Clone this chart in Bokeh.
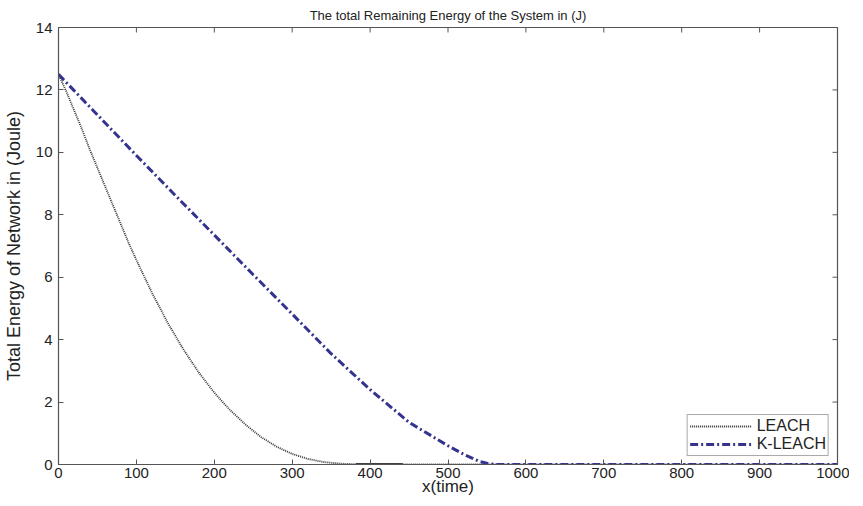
import math
from bokeh.plotting import figure
from bokeh.models import Legend, LegendItem, FixedTicker, Range1d
from bokeh.embed import file_html
from bokeh.resources import INLINE

# ---- data ----
title_text = "The total Remaining Energy of the System in (J)"
x_label = "x(time)"
y_label = "Total Energy of Network in (Joule)"
x_ticks = [0, 100, 200, 300, 400, 500, 600, 700, 800, 900, 1000]
y_ticks = [0, 2, 4, 6, 8, 10, 12, 14]

leach_x = [0, 10, 20, 30, 40, 50, 60, 70, 80, 90, 100, 120, 140, 160, 180, 200,
           220, 240, 260, 280, 300, 320, 340, 360, 380, 400, 500, 600, 700, 800, 900, 1000]
leach_y = [12.5, 11.95, 11.35, 10.75, 10.1, 9.5, 8.9, 8.3, 7.7, 7.1, 6.55, 5.5, 4.55, 3.7,
           2.95, 2.3, 1.75, 1.28, 0.88, 0.57, 0.34, 0.18, 0.08, 0.03, 0.01, 0.0, 0.0, 0.0,
           0.0, 0.0, 0.0, 0.0]

leach_flat_x = [382, 442]
leach_flat_y = [0.0, 0.0]

kleach_x = [0, 50, 100, 150, 200, 250, 300, 350, 400, 450, 500, 520, 540, 550, 560,
            600, 700, 800, 900, 1000]
kleach_y = [12.5, 11.2, 9.9, 8.62, 7.35, 6.08, 4.82, 3.55, 2.4, 1.35, 0.6, 0.33, 0.1,
            0.04, 0.0, 0.0, 0.0, 0.0, 0.0, 0.0]

X_MIN, X_MAX = 0, 1000
Y_MIN, Y_MAX = 0, 14
FRAME_W, FRAME_H = 779, 437

FONT = "Liberation Sans"
AX = "#555555"
TXT = "#222222"

p = figure(output_backend="svg", toolbar_location=None,
           frame_width=FRAME_W, frame_height=FRAME_H,
           x_range=Range1d(X_MIN, X_MAX), y_range=Range1d(Y_MIN, Y_MAX),
           min_border_left=53, min_border_top=4, min_border_right=12, min_border_bottom=2,
           background_fill_color="white", border_fill_color="white")
p.outline_line_color = AX
p.outline_line_width = 1.2
p.grid.visible = False

p.title.text = title_text
p.title.align = "center"
p.title.text_font = FONT
p.title.text_font_style = "normal"
p.title.text_font_size = "13px"
p.title.text_color = TXT

for ax in (p.xaxis[0], p.yaxis[0]):
    ax.major_tick_in = 5
    ax.major_tick_out = 0
    ax.minor_tick_in = 0
    ax.minor_tick_out = 0
    ax.axis_line_color = AX
    ax.major_tick_line_color = AX
    ax.major_label_text_font = FONT
    ax.major_label_text_font_size = "15px"
    ax.major_label_text_color = TXT
    ax.axis_label_text_font = FONT
    ax.axis_label_text_font_style = "normal"
    ax.axis_label_text_color = TXT

p.xaxis[0].ticker = FixedTicker(ticks=x_ticks)
p.yaxis[0].ticker = FixedTicker(ticks=y_ticks)
p.xaxis[0].axis_label = x_label
p.xaxis[0].axis_label_text_font_size = "17px"
p.xaxis[0].major_label_standoff = 3
p.xaxis[0].axis_label_standoff = -4
p.yaxis[0].axis_label = y_label
p.yaxis[0].axis_label_text_font_size = "18px"
p.yaxis[0].major_label_standoff = 6
p.yaxis[0].axis_label_standoff = 9

# inward ticks on the top and right edges of the box (MATLAB style)
p.ray(x=x_ticks, y=[Y_MAX] * len(x_ticks), length=5, length_units="screen",
      angle=-math.pi / 2, line_color=AX, line_width=1)
p.ray(x=[X_MAX] * len(y_ticks), y=y_ticks, length=5, length_units="screen",
      angle=math.pi, line_color=AX, line_width=1)

r_leach = p.line(leach_x, leach_y, line_color="#333333", line_width=1.8, line_dash="1 1")
p.line(leach_flat_x, leach_flat_y, line_color="#111111", line_width=2.5)
r_k = p.line(kleach_x, kleach_y, line_color="#34348f", line_width=3, line_dash="8 3 2 3")

legend = Legend(items=[LegendItem(label="LEACH", renderers=[r_leach]),
                       LegendItem(label="K-LEACH", renderers=[r_k])],
                location="bottom_right")
legend.label_text_font = FONT
legend.label_text_font_size = "16px"
legend.label_text_color = TXT
legend.glyph_width = 62
legend.glyph_height = 12
legend.label_standoff = 5
legend.label_height = 12
legend.padding = 2
legend.spacing = 0
legend.margin = 8
legend.border_line_color = AX
legend.border_line_width = 1
legend.background_fill_alpha = 1
p.add_layout(legend, "center")

open("out.html", "w").write(file_html(p, INLINE))
